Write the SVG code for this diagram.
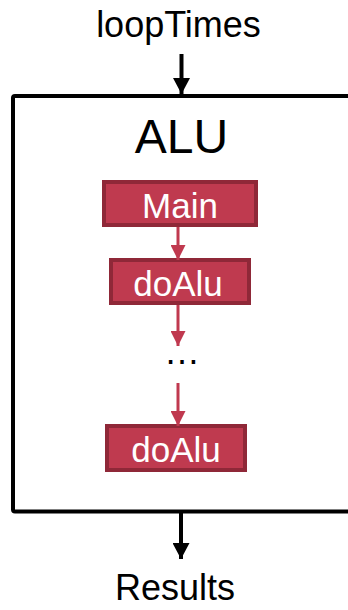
<svg xmlns="http://www.w3.org/2000/svg" width="348" height="610" viewBox="0 0 348 610">
<style>
.lbl{font-family:"Liberation Sans",Arial,sans-serif;fill:#000;text-anchor:middle}
.fn rect{fill:#bf3a4f;stroke:#8f2838;stroke-width:4}
.fn text{font-family:"Liberation Sans",Arial,sans-serif;fill:#fff;font-size:35px;text-anchor:middle}
.blk{stroke:#000;stroke-width:4;fill:none}
.red{stroke:#c0394f;stroke-width:3;fill:none}
</style>
<defs>
<marker id="ab" markerUnits="userSpaceOnUse" markerWidth="18" markerHeight="17" refX="16" refY="8.5" orient="auto"><path d="M0,0 L16,8.5 L0,17 Z" fill="#000"/></marker>
<marker id="ar" markerUnits="userSpaceOnUse" markerWidth="16" markerHeight="15" refX="15" refY="7.5" orient="auto"><path d="M0,0 L15,7.5 L0,15 Z" fill="#c0394f"/></marker>
</defs>
<g id="input"><text class="lbl" x="178.5" y="37" font-size="36">loopTimes</text></g>
<g id="alu">
<path class="blk" d="M360,96 L15,96 Q13,96 13,98 L13,509.5 Q13,511.5 15,511.5 L360,511.5"/>
<text class="lbl" x="181.5" y="153" font-size="48">ALU</text>
</g>
<g id="main" class="fn"><rect x="104" y="182" width="152" height="43"/><text x="180" y="218">Main</text></g>
<g id="doAlu1" class="fn"><rect x="111" y="260" width="138" height="43"/><text x="178" y="296">doAlu</text></g>
<g id="ellipsis"><text class="lbl" x="182" y="364" font-size="36">…</text></g>
<g id="doAlu2" class="fn"><rect x="107" y="426" width="138" height="44"/><text x="176" y="462">doAlu</text></g>
<g id="output"><text class="lbl" x="175" y="600" font-size="36">Results</text></g>
<g id="connectors">
<line class="blk" x1="181.5" y1="54" x2="181.5" y2="94" marker-end="url(#ab)"/>
<line class="blk" x1="181" y1="513" x2="181" y2="559" marker-end="url(#ab)"/>
<line class="red" x1="178" y1="227" x2="178" y2="260" marker-end="url(#ar)"/>
<line class="red" x1="178" y1="305" x2="178" y2="346" marker-end="url(#ar)"/>
<line class="red" x1="178" y1="383" x2="178" y2="426" marker-end="url(#ar)"/>
</g>
</svg>
